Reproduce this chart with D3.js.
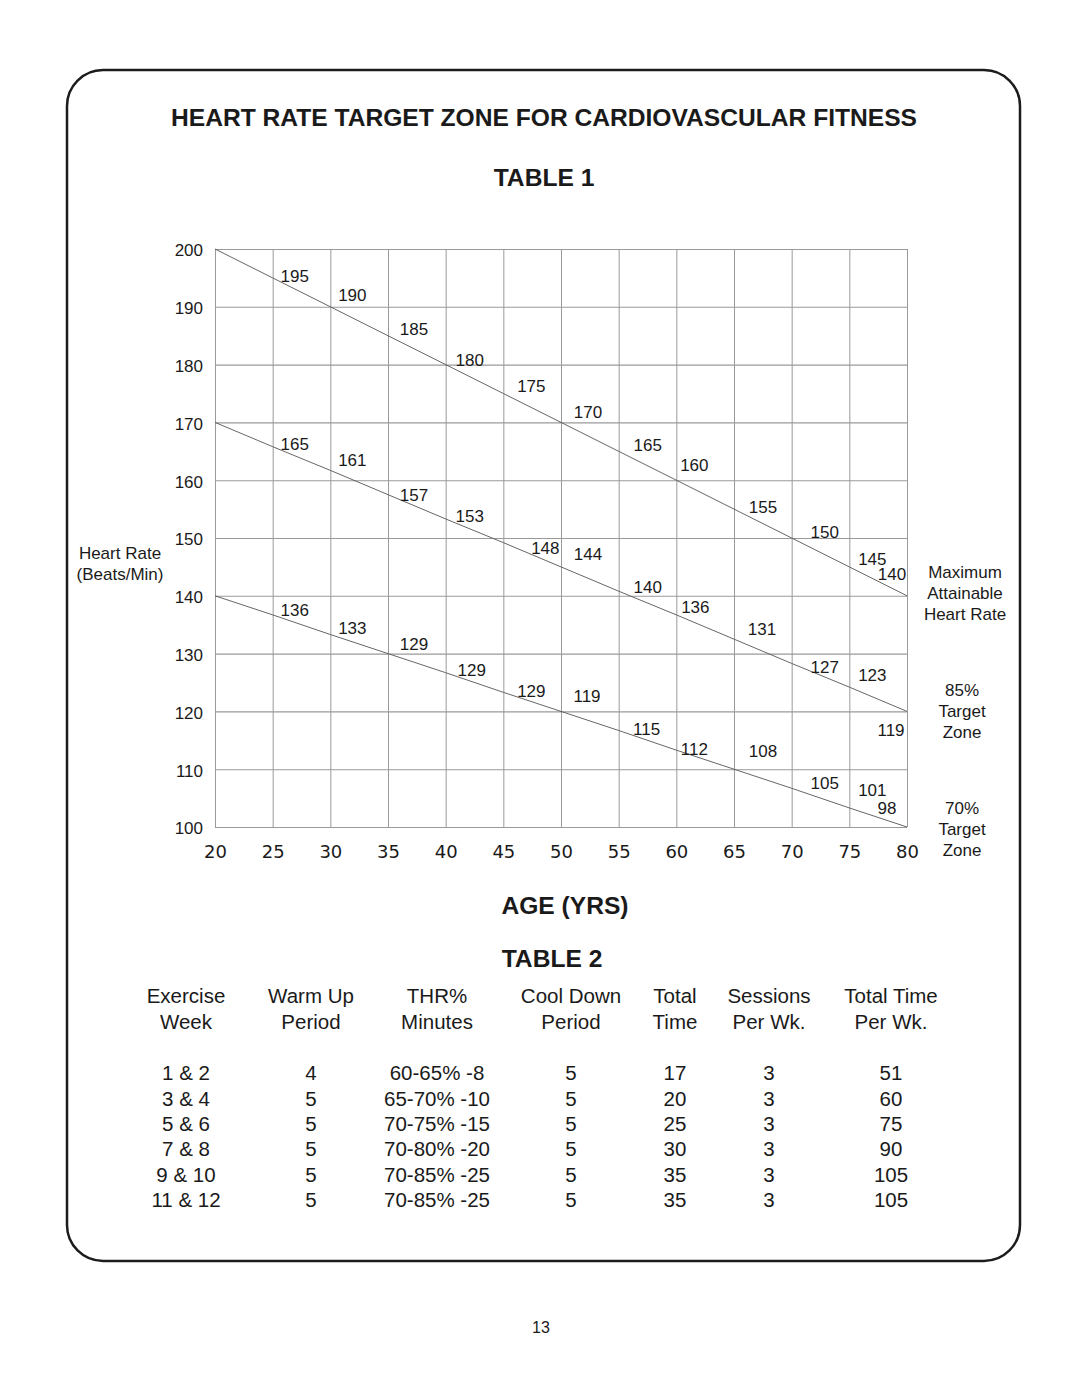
<!DOCTYPE html>
<html>
<head>
<meta charset="utf-8">
<script src="https://cdn.jsdelivr.net/npm/d3@7"></script>
<style>
  html, body { margin: 0; padding: 0; background: #fff; }
  svg { display: block; }
  text { font-family: "Liberation Sans", Arial, Helvetica, sans-serif; fill: #1a1a1a; }
</style>
</head>
<body>
<svg id="page" width="1080" height="1397"></svg>
<script>
// ---------------- DATA ----------------
const ages = [20, 25, 30, 35, 40, 45, 50, 55, 60, 65, 70, 75, 80];
const yTicks = [100, 110, 120, 130, 140, 150, 160, 170, 180, 190, 200];

// drawn line values (beats/min) at each age
const maxRate = [200, 195, 190, 185, 180, 175, 170, 165, 160, 155, 150, 145, 140];
const zone85  = [170, 165.8, 161.7, 157.5, 153.3, 149.2, 145, 140.8, 136.7, 132.5, 128.3, 124.2, 120];
const zone70  = [140, 136.7, 133.3, 130, 126.7, 123.3, 120, 116.7, 113.3, 110, 106.7, 103.3, 100];

// printed value labels (ages 25..80), as printed in the chart
const labelAges    = [25, 30, 35, 40, 45, 50, 55, 60, 65, 70, 75, 80];
const maxLabels    = ["195","190","185","180","175","170","165","160","155","150","145","140"];
const zone85Labels = ["165","161","157","153","148","144","140","136","131","127","123","119"];
const zone70Labels = ["136","133","129","129","129","119","115","112","108","105","101","98"];

// Table 2
const t2Header1 = ["Exercise", "Warm Up", "THR%", "Cool Down", "Total", "Sessions", "Total Time"];
const t2Header2 = ["Week", "Period", "Minutes", "Period", "Time", "Per Wk.", "Per Wk."];
const t2Week     = ["1 & 2", "3 & 4", "5 & 6", "7 & 8", "9 & 10", "11 & 12"];
const t2WarmUp   = ["4", "5", "5", "5", "5", "5"];
const t2THR      = ["60-65% -8", "65-70% -10", "70-75% -15", "70-80% -20", "70-85% -25", "70-85% -25"];
const t2CoolDown = ["5", "5", "5", "5", "5", "5"];
const t2Total    = ["17", "20", "25", "30", "35", "35"];
const t2Sessions = ["3", "3", "3", "3", "3", "3"];
const t2PerWeek  = ["51", "60", "75", "90", "105", "105"];

// ---------------- LAYOUT (pixel nudges for the value labels) ----------------
const maxNudge = [[22,-2],[22,-12],[26,-7],[24,-5],[28,-8],[27,-11],[29,-6],[18,-15],[29,-2],[33,-6],[23,-8],[-15,-22]];
const z85Nudge = [[22,-3],[22,-10],[26,0],[24,-3],[42,5],[27,-13],[29,-4],[19,-8],[28,-10],[33,3],[23,-12],[-16,18]];
const z70Nudge = [[22,-5],[22,-7],[26,-10],[26,-3],[28,-1],[26,-16],[28,-2],[18,-1],[29,-18],[33,-5],[23,-18.5],[-20,-19]];

// ---------------- DRAW ----------------
const svg = d3.select("#page");

// rounded frame
svg.append("rect")
  .attr("x", 67).attr("y", 70).attr("width", 953).attr("height", 1191)
  .attr("rx", 36).attr("ry", 36)
  .attr("fill", "none").attr("stroke", "#1c1c1c").attr("stroke-width", 2.5);

function boldText(txt, x, y) {
  svg.append("text").attr("x", x).attr("y", y)
    .attr("text-anchor", "middle")
    .style("font-weight", "bold").style("font-size", "24.6px")
    .text(txt);
}
boldText("HEART RATE TARGET ZONE FOR CARDIOVASCULAR FITNESS", 544, 126);
boldText("TABLE 1", 544, 186);
boldText("AGE (YRS)", 565, 914);
boldText("TABLE 2", 552, 967);

// scales
const x = d3.scaleLinear().domain([20, 80]).range([215, 907]);
const y = d3.scaleLinear().domain([100, 200]).range([827, 249]);
const plotW = x.range()[1] - x.range()[0];
const plotH = y.range()[0] - y.range()[1];

const chart = svg.append("g");

// horizontal grid + y labels
const yAxis = chart.append("g")
  .attr("transform", `translate(${x(20)},0)`)
  .call(d3.axisLeft(y).tickValues(yTicks).tickSize(-plotW).tickPadding(12).tickFormat(d3.format("d")));
yAxis.select(".domain").remove();
yAxis.selectAll(".tick line").attr("stroke", "#9a9a9a").attr("stroke-width", 1.1);
yAxis.selectAll(".tick text")
  .attr("fill", "#1a1a1a")
  .style("font-family", "'Liberation Sans', Arial, sans-serif")
  .style("font-size", "17px")
  .attr("dy", "0.4em");

// vertical grid + x labels
const xAxis = chart.append("g")
  .attr("transform", `translate(0,${y(100)})`)
  .call(d3.axisBottom(x).tickValues(ages).tickSize(-plotH).tickPadding(18).tickFormat(d3.format("d")));
xAxis.select(".domain").remove();
xAxis.selectAll(".tick line").attr("stroke", "#9a9a9a").attr("stroke-width", 1);
xAxis.selectAll(".tick text")
  .attr("fill", "#1a1a1a")
  .style("font-family", "'DejaVu Sans', sans-serif")
  .style("font-size", "18px");

// diagonal lines
const line = d3.line().x(d => x(d[0])).y(d => y(d[1]));
[maxRate, zone85, zone70].forEach(vals => {
  chart.append("path")
    .datum(ages.map((a, i) => [a, vals[i]]))
    .attr("d", line)
    .attr("fill", "none")
    .attr("stroke", "#555")
    .attr("stroke-width", 0.9);
});

// value labels
function drawLabels(labels, vals, nudges) {
  chart.append("g").selectAll("text")
    .data(labels)
    .join("text")
    .attr("x", (d, i) => x(labelAges[i]) + nudges[i][0])
    .attr("y", (d, i) => y(vals[ages.indexOf(labelAges[i])]) + nudges[i][1])
    .attr("dy", "0.36em")
    .attr("text-anchor", "middle")
    .style("font-size", "17px")
    .text(d => d);
}
drawLabels(maxLabels, maxRate, maxNudge);
drawLabels(zone85Labels, zone85, z85Nudge);
drawLabels(zone70Labels, zone70, z70Nudge);

// side labels
function multiLine(lines, cx, cy0, step) {
  lines.forEach((t, i) => {
    svg.append("text").attr("x", cx).attr("y", cy0 + i * step)
      .attr("dy", "0.36em").attr("text-anchor", "middle")
      .style("font-size", "17px").text(t);
  });
}
multiLine(["Heart Rate", "(Beats/Min)"], 120, 553, 20.5);
multiLine(["Maximum", "Attainable", "Heart Rate"], 965, 572, 21);
multiLine(["85%", "Target", "Zone"], 962, 690, 21);
multiLine(["70%", "Target", "Zone"], 962, 808, 21);

// Table 2
const colX = [186, 311, 437, 571, 675, 769, 891];
const tFont = "20.5px";
function rowText(vals, yCenter) {
  vals.forEach((t, i) => {
    svg.append("text").attr("x", colX[i]).attr("y", yCenter)
      .attr("dy", "0.36em").attr("text-anchor", "middle")
      .style("font-size", tFont).text(t);
  });
}
rowText(t2Header1, 996);
rowText(t2Header2, 1021.5);
const rowY = [1073, 1098.5, 1124, 1149, 1174.5, 1199.5];
t2Week.forEach((w, r) => {
  rowText([w, t2WarmUp[r], t2THR[r], t2CoolDown[r], t2Total[r], t2Sessions[r], t2PerWeek[r]], rowY[r]);
});

// page number
svg.append("text").attr("x", 541).attr("y", 1327).attr("dy", "0.36em")
  .attr("text-anchor", "middle").style("font-size", "16px").text("13");
</script>
</body>
</html>
